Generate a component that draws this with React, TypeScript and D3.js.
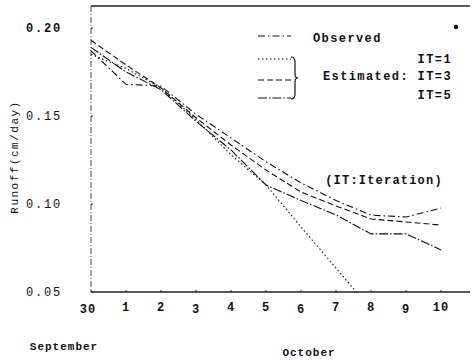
import React, { useEffect, useRef } from 'react';
import * as d3 from 'd3';

// days after 30 September (0 = Sep 30, 1..10 = Oct 1..10)
const days = [0, 1, 2, 3, 4, 5, 6, 7, 8, 9, 10];
const dayLabels = ['30', '1', '2', '3', '4', '5', '6', '7', '8', '9', '10'];

const observed = [0.187, 0.168, 0.167, 0.151, 0.1375, 0.124, 0.112, 0.102, 0.0937, 0.0926, 0.0977];
const estIT1 = [0.185, 0.177, 0.166, 0.148, 0.128, 0.1108, 0.087, 0.0636, 0.040, 0.030, 0.020];
const estIT3 = [0.193, 0.179, 0.166, 0.149, 0.1335, 0.1193, 0.1068, 0.0989, 0.0915, 0.0898, 0.088];
const estIT5 = [0.189, 0.175, 0.165, 0.147, 0.1307, 0.1108, 0.102, 0.0938, 0.083, 0.083, 0.0739];

const yTicks = [0.05, 0.10, 0.15, 0.20];

const seriesStyles = [
  { name: 'Observed', values: observed, dash: '7,3,1.5,3' },
  { name: 'IT=1', values: estIT1, dash: '1.5,2.5' },
  { name: 'IT=3', values: estIT3, dash: '6,3' },
  { name: 'IT=5', values: estIT5, dash: '9,2,1.5,2' },
];

const App = () => {
  const svgRef = useRef<SVGSVGElement>(null);

  useEffect(() => {
    const width = 476;
    const height = 360;
    const left = 91, right = 441, top = 28, bottom = 292;

    const x = d3.scaleLinear([0, 10], [left, right]);
    const y = d3.scaleLinear([0.05, 0.20], [bottom, top]);

    const svg = d3.select(svgRef.current)
      .attr('width', width)
      .attr('height', height)
      .attr('viewBox', [0, 0, width, height])
      .style('position', 'absolute')
      .style('left', '0px')
      .style('top', '0px')
      .style('background', '#fff');
    svg.selectAll('*').remove();

    const mono = '"Liberation Mono", "DejaVu Sans Mono", monospace';

    svg.append('clipPath').attr('id', 'plot')
      .append('rect').attr('x', left).attr('y', 6).attr('width', 380).attr('height', bottom - 6);

    // frame: top line, left axis, bottom axis
    svg.append('line').attr('x1', left).attr('x2', 470).attr('y1', 6).attr('y2', 6)
      .attr('stroke', '#222').attr('stroke-width', 1.6);
    svg.append('line').attr('x1', left).attr('x2', left).attr('y1', 6).attr('y2', bottom)
      .attr('stroke', '#444').attr('stroke-width', 1).attr('stroke-dasharray', '6,2,1,2');
    svg.append('line').attr('x1', left).attr('x2', 470).attr('y1', bottom).attr('y2', bottom)
      .attr('stroke', '#222').attr('stroke-width', 1.6);

    // x ticks
    const xAxis = svg.append('g').attr('font-family', mono).attr('font-weight', 'bold')
      .attr('font-size', 12).attr('fill', '#111');
    days.forEach((d, i) => {
      xAxis.append('line').attr('x1', x(d)).attr('x2', x(d)).attr('y1', bottom).attr('y2', bottom - 2)
        .attr('stroke', '#222');
      xAxis.append('text').attr('x', x(d) + (i === 0 ? -3 : 0)).attr('y', 312 + (i % 3 === 0 ? 1 : -1))
        .attr('text-anchor', 'middle').attr('letter-spacing', 1).text(dayLabels[i]);
    });

    // y ticks
    const yAxis = svg.append('g').attr('font-family', mono).attr('font-size', 12)
      .attr('fill', '#111').attr('letter-spacing', 1.8);
    yTicks.forEach((t) => {
      yAxis.append('line').attr('x1', left).attr('x2', left + 2).attr('y1', y(t)).attr('y2', y(t))
        .attr('stroke', '#222');
      yAxis.append('text').attr('x', 62).attr('y', y(t) + 4).attr('text-anchor', 'end')
        .attr('font-weight', t === 0.20 ? 'bold' : 'normal')
        .text(d3.format('.2f')(t));
    });

    svg.append('text')
      .attr('transform', `translate(18,157) rotate(-90)`)
      .attr('text-anchor', 'middle').attr('font-family', mono).attr('font-size', 11)
      .attr('letter-spacing', 1.5).attr('fill', '#111').text('Runoff(cm/day)');

    svg.append('text').attr('x', 64).attr('y', 350).attr('text-anchor', 'middle')
      .attr('font-family', mono).attr('font-weight', 'bold').attr('font-size', 11)
      .attr('letter-spacing', 1).attr('fill', '#111').text('September');
    svg.append('text').attr('x', 309).attr('y', 356).attr('text-anchor', 'middle')
      .attr('font-family', mono).attr('font-weight', 'bold').attr('font-size', 11)
      .attr('letter-spacing', 1).attr('fill', '#111').text('October');

    // series
    const line = d3.line<number>()
      .x((_, i) => x(days[i]))
      .y((v) => y(v));

    const plot = svg.append('g').attr('clip-path', 'url(#plot)');
    seriesStyles.forEach((s) => {
      plot.append('path')
        .attr('d', line(s.values))
        .attr('fill', 'none')
        .attr('stroke', '#111')
        .attr('stroke-width', 1.1)
        .attr('stroke-dasharray', s.dash);
    });

    // legend
    const lg = svg.append('g').attr('font-family', mono).attr('font-weight', 'bold')
      .attr('font-size', 12).attr('fill', '#111').attr('letter-spacing', 1.4);
    const sampleY = [36, 59, 80, 98];
    seriesStyles.forEach((s, i) => {
      lg.append('line').attr('x1', 258).attr('x2', 291).attr('y1', sampleY[i]).attr('y2', sampleY[i])
        .attr('stroke', '#111').attr('stroke-width', 1.2).attr('stroke-dasharray', s.dash);
    });
    lg.append('path')
      .attr('d', 'M291,57 Q295,57 295,62 L295,74 Q295,78 298,78 Q295,78 295,82 L295,94 Q295,99 291,99')
      .attr('fill', 'none').attr('stroke', '#111').attr('stroke-width', 1.2);
    lg.append('text').attr('x', 313).attr('y', 42).text('Observed');
    lg.append('text').attr('x', 452).attr('y', 63).attr('text-anchor', 'end').text('IT=1');
    lg.append('text').attr('x', 452).attr('y', 80).attr('text-anchor', 'end').text('Estimated: IT=3');
    lg.append('text').attr('x', 452).attr('y', 99).attr('text-anchor', 'end').text('IT=5');
    svg.append('circle').attr('cx', 456).attr('cy', 27).attr('r', 2.2).attr('fill', '#111');

    svg.append('text').attr('x', 384).attr('y', 184).attr('text-anchor', 'middle')
      .attr('font-family', mono).attr('font-weight', 'bold').attr('font-size', 12)
      .attr('letter-spacing', 1.2).attr('fill', '#111').text('(IT:Iteration)');
  }, []);

  return <svg ref={svgRef} />;
};

export default App;
